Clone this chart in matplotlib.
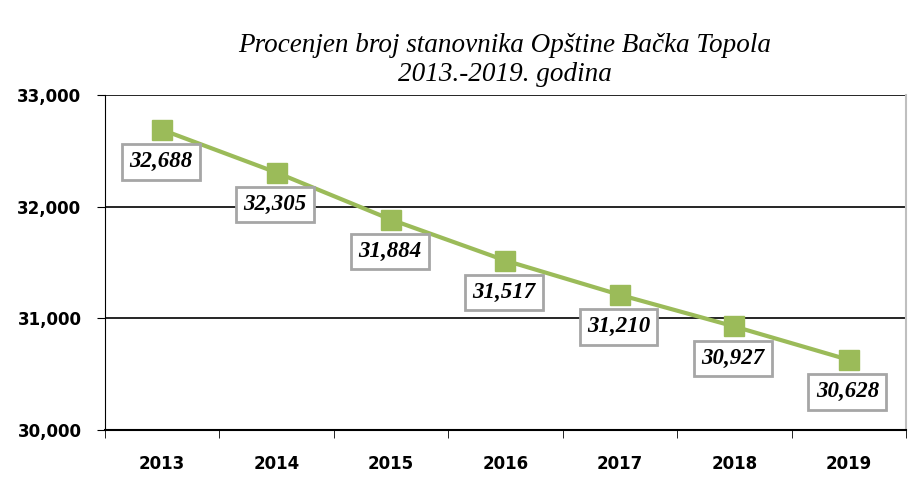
#!/usr/bin/env python3

import numpy as np
import matplotlib.pyplot as plt

years = ['2013', '2014', '2015', '2016', '2017', '2018', '2019']
population = [32688, 32305, 31884, 31517, 31210, 30927, 30628]
y_ticks = [30000, 31000, 32000, 33000]

title = 'Procenjen broj stanovnika Opštine Bačka Topola\n2013.-2019. godina'
green = '#9BBB59'


def main():
    fig = plt.figure(figsize=(9.1, 4.95), dpi=100)
    ax = fig.add_axes([105 / 910, 1 - 430 / 495, 801 / 910, 335 / 495])

    x = np.arange(len(years))
    ax.plot(x, population, color=green, lw=3, marker='s', ms=14, zorder=3)

    for xi, v in zip(x, population):
        ax.annotate(f'{v:,}', (xi, v), xytext=(-1, -23), textcoords='offset points',
                    ha='center', va='center', fontsize=16.5, fontweight='bold',
                    fontstyle='italic', family='Liberation Serif', zorder=4,
                    bbox=dict(boxstyle='square,pad=0.32', fc='white', ec='#a6a6a6', lw=2))

    ax.set_xlim(-0.5, len(years) - 0.5)
    ax.set_ylim(30000, 33000)
    ax.set_yticks(y_ticks)
    ax.set_yticklabels([f'{t:,}' for t in y_ticks], fontsize=12, fontweight='bold', family='DejaVu Sans')
    ax.set_xticks(x)
    ax.set_xticklabels(years, fontsize=12, fontweight='bold', family='DejaVu Sans')
    ax.set_xticks(np.arange(len(years) + 1) - 0.5, minor=True)
    ax.tick_params(axis='x', which='major', length=0, pad=18)
    ax.tick_params(axis='x', which='minor', length=6, color='black')
    ax.tick_params(axis='y', length=6, pad=11)

    ax.grid(axis='y', color='black', lw=1.2)
    ax.spines['top'].set_visible(False)
    ax.spines['right'].set_color('#bfbfbf')
    ax.spines['right'].set_linewidth(1.5)
    ax.spines['left'].set_color('black')
    ax.spines['bottom'].set_color('black')
    ax.spines['bottom'].set_linewidth(1.5)

    fig.text(505 / 910, 1 - 60 / 495, title, ha='center', va='center', fontsize=19.5,
             fontstyle='italic', family='Liberation Serif', linespacing=1.2)

    fig.savefig('out.png', dpi=100)


if __name__ == "__main__":
    main()
